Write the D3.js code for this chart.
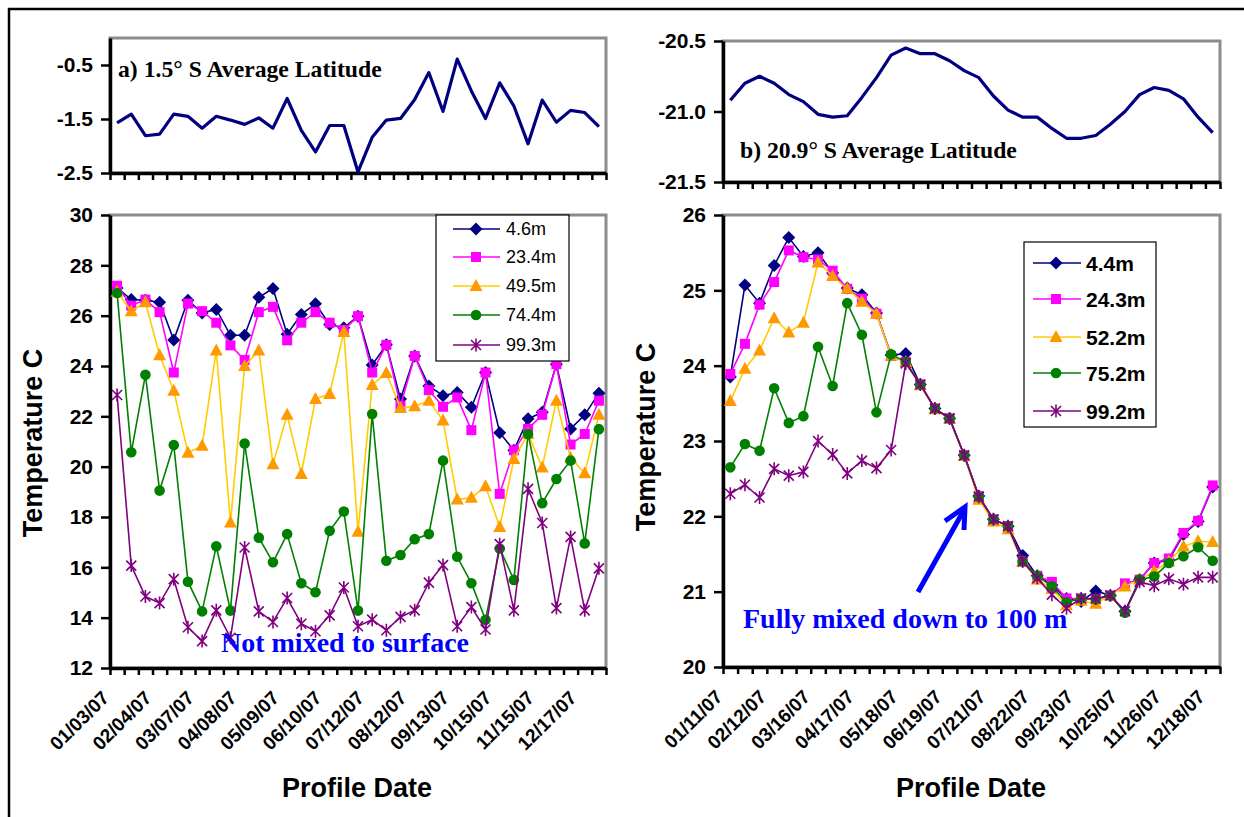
<!DOCTYPE html>
<html><head><meta charset="utf-8">
<script src="https://cdn.jsdelivr.net/npm/d3@7"></script>
<style>body{margin:0;background:#fff}svg{display:block}</style>
</head><body>
<svg id="c" width="1244" height="817"></svg>
<script>
// ---------------- DATA ----------------
const leftTickLabels = ["01/03/07","02/04/07","03/07/07","04/08/07","05/09/07","06/10/07","07/12/07","08/12/07","09/13/07","10/15/07","11/15/07","12/17/07"];
const rightTickLabels = ["01/11/07","02/12/07","03/16/07","04/17/07","05/18/07","06/19/07","07/21/07","08/22/07","09/23/07","10/25/07","11/26/07","12/18/07"];

const leftLatitude = [-1.57,-1.41,-1.81,-1.78,-1.41,-1.45,-1.67,-1.45,-1.52,-1.60,-1.48,-1.67,-1.12,-1.71,-2.11,-1.62,-1.62,-2.48,-1.84,-1.52,-1.49,-1.14,-0.64,-1.36,-0.39,-0.98,-1.49,-0.83,-1.26,-1.96,-1.15,-1.56,-1.34,-1.38,-1.64];
const rightLatitude = [-20.92,-20.80,-20.75,-20.80,-20.88,-20.93,-21.02,-21.04,-21.03,-20.90,-20.76,-20.60,-20.55,-20.59,-20.59,-20.64,-20.71,-20.76,-20.89,-20.99,-21.04,-21.04,-21.12,-21.19,-21.19,-21.17,-21.09,-21.00,-20.88,-20.83,-20.85,-20.91,-21.04,-21.15];

const leftDepths = ["4.6m","23.4m","49.5m","74.4m","99.3m"];
const left_4_6m  = [27.10,26.64,26.61,26.53,25.03,26.61,26.11,26.25,25.22,25.22,26.73,27.08,25.26,26.05,26.47,25.65,25.52,25.98,24.04,24.84,22.69,24.40,23.21,22.82,22.95,22.36,23.74,21.35,20.65,21.90,22.16,24.07,21.50,22.06,22.92];
const left_23_4m = [27.19,26.40,26.64,26.14,23.74,26.48,26.18,25.72,24.82,24.24,26.14,26.35,25.02,25.72,26.14,25.72,25.43,25.98,23.74,24.84,22.42,24.40,23.04,22.38,22.75,21.45,23.74,18.92,20.65,21.50,22.06,24.07,20.88,21.30,22.62];
const left_49_5m = [26.95,26.18,26.53,24.43,23.02,20.55,20.83,24.62,17.78,24.00,24.62,20.10,22.06,19.71,22.69,22.89,25.35,17.41,23.25,23.72,22.33,22.40,22.62,21.83,18.70,18.76,19.22,17.60,20.30,21.30,19.97,22.62,20.35,19.74,22.06];
const left_74_4m = [26.90,20.57,23.65,19.05,20.86,15.43,14.25,16.84,14.28,20.92,17.18,16.20,17.32,15.37,15.01,17.45,18.22,14.28,22.09,16.26,16.49,17.12,17.32,20.24,16.42,15.37,13.92,16.75,15.50,21.30,18.55,19.51,20.24,16.95,21.49];
const left_99_3m = [22.85,16.07,14.84,14.58,15.53,13.62,13.07,14.29,13.20,16.79,14.25,13.83,14.78,13.76,13.46,14.09,15.20,13.66,13.92,13.50,14.03,14.29,15.39,16.09,13.66,14.42,13.53,16.92,14.29,19.12,17.76,14.38,17.21,14.29,15.96];

const rightDepths = ["4.4m","24.3m","52.2m","75.2m","99.2m"];
const right_4_4m  = [23.85,25.07,24.83,25.33,25.70,25.45,25.50,25.23,25.03,24.94,24.70,24.14,24.16,23.75,23.43,23.30,22.81,22.27,21.96,21.87,21.48,21.21,21.09,20.91,20.87,21.01,20.95,20.74,21.16,21.38,21.42,21.76,21.93,22.39];
const right_24_3m = [23.89,24.29,24.81,25.11,25.53,25.44,25.41,25.26,25.02,24.89,24.69,24.13,24.05,23.75,23.43,23.30,22.81,22.27,21.96,21.87,21.40,21.21,21.13,20.91,20.91,20.90,20.95,21.11,21.16,21.38,21.44,21.78,21.94,22.41];
const right_52_2m = [23.53,23.96,24.20,24.63,24.44,24.57,25.37,25.19,25.02,24.85,24.69,24.13,24.05,23.74,23.42,23.30,22.80,22.22,21.93,21.83,21.40,21.16,21.04,20.82,20.88,20.84,20.95,21.07,21.16,21.27,21.40,21.60,21.67,21.66];
const right_75_2m = [22.65,22.96,22.87,23.70,23.24,23.33,24.25,23.73,24.83,24.41,23.38,24.15,24.05,23.75,23.43,23.30,22.81,22.26,21.96,21.87,21.40,21.21,21.07,20.86,20.91,20.90,20.95,20.72,21.16,21.20,21.38,21.47,21.59,21.41];
const right_99_2m = [22.30,22.42,22.25,22.63,22.54,22.59,23.00,22.82,22.57,22.74,22.64,22.88,24.03,23.75,23.43,23.30,22.81,22.26,21.96,21.87,21.40,21.18,20.96,20.78,20.91,20.91,20.95,20.74,21.13,21.08,21.17,21.10,21.19,21.19];

const leftTopTicks = [-2.5,-1.5,-0.5];
const rightTopTicks = [-21.5,-21.0,-20.5];
const leftMainTicks = [12,14,16,18,20,22,24,26,28,30];
const rightMainTicks = [20,21,22,23,24,25,26];

// ---------------- STYLE ----------------
const SANS = "'Liberation Sans', Arial, sans-serif";
const SERIF = "'Liberation Serif', 'Times New Roman', serif";
const seriesStyle = [
  {line:"#000080", fill:"#000080", shape:"diamond"},
  {line:"#FF00FF", fill:"#FF00FF", shape:"square"},
  {line:"#FFCC00", fill:"#FF9900", shape:"triangle"},
  {line:"#008000", fill:"#008000", shape:"circle"},
  {line:"#800080", fill:"#800080", shape:"star"}
];

const svg = d3.select("#c");
svg.append("rect").attr("x",9).attr("y",9).attr("width",1400).attr("height",1000)
  .attr("fill","none").attr("stroke","#000").attr("stroke-width",2.5);

function drawMarker(g, shape, x, y, color){
  const m = g.append("g").attr("transform",`translate(${x},${y})`);
  if(shape==="diamond") m.append("path").attr("d","M0,-6.5L6.5,0L0,6.5L-6.5,0Z").attr("fill",color);
  else if(shape==="square") m.append("rect").attr("x",-5).attr("y",-5).attr("width",10).attr("height",10).attr("fill",color);
  else if(shape==="triangle") m.append("path").attr("d","M0,-7L6.5,5L-6.5,5Z").attr("fill",color);
  else if(shape==="circle") m.append("circle").attr("r",5.3).attr("fill",color);
  else if(shape==="star") m.append("path").attr("d","M-5,-5L5,5M-5,5L5,-5M0,-6.5L0,6.5").attr("stroke",color).attr("stroke-width",1.6).attr("fill","none");
}

function frameAxes(x0,x1,y0,y1,yScale,yTicks,fmt,n,labels){
  const g = svg.append("g");
  g.append("rect").attr("x",x0).attr("y",y0).attr("width",x1-x0).attr("height",y1-y0)
    .attr("fill","none").attr("stroke","#8c8c8c").attr("stroke-width",3);
  const ya = g.append("g").attr("transform",`translate(${x0},0)`)
    .call(d3.axisLeft(yScale).tickValues(yTicks).tickFormat(fmt).tickSize(9).tickSizeOuter(0));
  ya.select(".domain").attr("stroke","#000").attr("stroke-width",3.5);
  ya.selectAll(".tick line").attr("stroke","#000").attr("stroke-width",2.5);
  ya.selectAll(".tick text").attr("font-family",SANS).attr("font-weight","bold").attr("font-size",21)
    .attr("fill","#000").attr("x",-17);
  const xb = d3.scaleLinear().domain([0,n]).range([x0,x1]);
  const xa = g.append("g").attr("transform",`translate(0,${y1})`)
    .call(d3.axisBottom(xb).tickValues(d3.range(n+1)).tickFormat("").tickSize(7).tickSizeOuter(0));
  xa.select(".domain").attr("stroke","#000").attr("stroke-width",3.5);
  xa.selectAll(".tick line").attr("stroke","#000").attr("stroke-width",2.5);
  const xs = d3.scaleBand().domain(d3.range(n)).range([x0,x1]).padding(0);
  if(labels){
    const la = g.append("g").attr("transform",`translate(${xs.bandwidth()/2},${y1})`)
      .call(d3.axisBottom(xs).tickValues(d3.range(0,n,3)).tickFormat(i=>labels[i/3]).tickSize(0));
    la.select(".domain").remove();
    la.selectAll(".tick text").attr("font-family",SANS).attr("font-weight","bold").attr("font-size",19)
      .attr("fill","#000").attr("text-anchor","end").attr("x",0).attr("y",0).attr("dy",0)
      .attr("transform","translate(-14,31) rotate(-45)");
  }
  return xs;
}

function latPanel(x0,x1,y0,y1,domain,ticks,data,title,tx,ty){
  const n = data.length;
  const y = d3.scaleLinear().domain(domain).range([y1,y0]);
  const xs = frameAxes(x0,x1,y0,y1,y,ticks,d=>d.toFixed(1),n,null);
  const cx = i=>xs(i)+xs.bandwidth()/2;
  svg.append("path").datum(data).attr("fill","none").attr("stroke","#000080").attr("stroke-width",3.2)
    .attr("stroke-linejoin","round")
    .attr("d",d3.line().x((d,i)=>cx(i)).y(d=>y(d)));
  svg.append("text").attr("x",tx).attr("y",ty).attr("font-family",SERIF).attr("font-weight","bold")
    .attr("font-size",23.7).text(title);
}

function mainPanel(x0,x1,y0,y1,domain,ticks,seriesArr,labels){
  const n = seriesArr[0].length;
  const y = d3.scaleLinear().domain(domain).range([y1,y0]);
  const xs = frameAxes(x0,x1,y0,y1,y,ticks,d=>String(d),n,labels);
  const cx = i=>xs(i)+xs.bandwidth()/2;
  seriesArr.forEach((vals,k)=>{
    const st = seriesStyle[k];
    svg.append("path").datum(vals).attr("fill","none").attr("stroke",st.line).attr("stroke-width",1.6)
      .attr("d",d3.line().x((d,i)=>cx(i)).y(d=>y(d)));
    const mg = svg.append("g");
    vals.forEach((v,i)=>drawMarker(mg,st.shape,cx(i),y(v),st.fill));
  });
}

function legend(bx,by,bw,bh,rowsY,lx0,lx1,mx,tx,names,fs,fw){
  const g = svg.append("g");
  g.append("rect").attr("x",bx).attr("y",by).attr("width",bw).attr("height",bh)
    .attr("fill","#fff").attr("stroke","#000").attr("stroke-width",1.2);
  names.forEach((nm,k)=>{
    const st = seriesStyle[k], yy = rowsY[k];
    g.append("line").attr("x1",lx0).attr("x2",lx1).attr("y1",yy).attr("y2",yy).attr("stroke",st.line).attr("stroke-width",1.6);
    drawMarker(g,st.shape,mx,yy,st.fill);
    g.append("text").attr("x",tx).attr("y",yy).attr("dy","0.36em").attr("font-family",SANS)
      .attr("font-size",fs).attr("font-weight",fw).text(nm);
  });
}

// ---------------- LEFT ----------------
latPanel(110,606,38,173,[-2.5,0],leftTopTicks,leftLatitude,"a) 1.5° S Average Latitude",118,77);
mainPanel(110,606,215,668,[12,30],leftMainTicks,[left_4_6m,left_23_4m,left_49_5m,left_74_4m,left_99_3m],leftTickLabels);
legend(436,215,133,146,[229,257,286,315,345],453,500,476,506,leftDepths,18,"normal");

// ---------------- RIGHT ----------------
latPanel(723,1220,41,182,[-21.5,-20.5],rightTopTicks,rightLatitude,"b) 20.9° S Average Latitude",740,158);
mainPanel(723,1220,215,667,[20,26],rightMainTicks,[right_4_4m,right_24_3m,right_52_2m,right_75_2m,right_99_2m],rightTickLabels);
legend(1024,242,132,185,[263,299,337,373,411],1033,1081,1056,1086,rightDepths,21,"bold");

// ---------------- TITLES ----------------
function axTitle(x,y,txt,rot){
  svg.append("text").attr("transform",`translate(${x},${y}) rotate(${rot})`).attr("text-anchor","middle")
    .attr("font-family",SANS).attr("font-weight","bold").attr("font-size",27).text(txt);
}
axTitle(42,443,"Temperature C",-90);
axTitle(655,437,"Temperature C",-90);
axTitle(357,797,"Profile Date",0);
axTitle(971,797,"Profile Date",0);

// ---------------- ANNOTATIONS ----------------
svg.append("text").attr("x",221).attr("y",652).attr("font-family",SERIF).attr("font-weight","bold")
  .attr("font-size",28).attr("fill","#0000FF").text("Not mixed to surface");
svg.append("text").attr("x",743).attr("y",628).attr("font-family",SERIF).attr("font-weight","bold")
  .attr("font-size",28).attr("fill","#0000FF").text("Fully mixed down to 100 m");
svg.append("path").attr("d","M918,592L964,510").attr("stroke","#0000FF").attr("stroke-width",5).attr("fill","none");
svg.append("path").attr("d","M945,521L965,507L964,530").attr("stroke","#0000FF").attr("stroke-width",5)
  .attr("fill","none").attr("stroke-linejoin","miter");
</script>
</body></html>
